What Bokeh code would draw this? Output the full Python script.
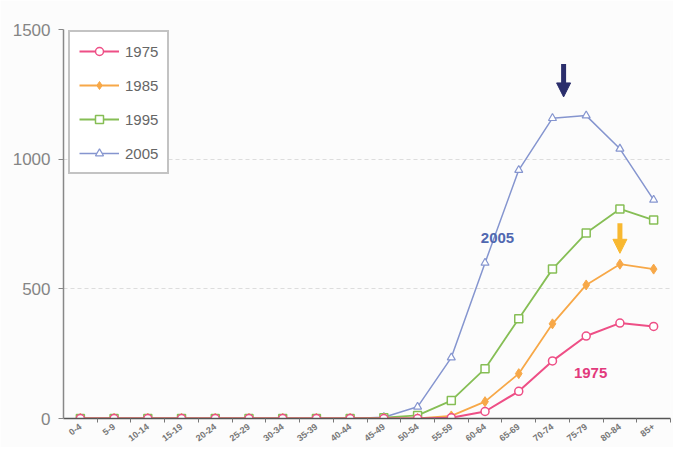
import math
from bokeh.plotting import figure
from bokeh.models import (Range1d, FixedTicker, Legend, LegendItem, Arrow, NormalHead, Label)
from bokeh.embed import file_html
from bokeh.resources import INLINE

ages = ["0-4", "5-9", "10-14", "15-19", "20-24", "25-29", "30-34", "35-39", "40-44",
        "45-49", "50-54", "55-59", "60-64", "65-69", "70-74", "75-79", "80-84", "85+"]
y1975 = [0, 0, 0, 0, 0, 0, 0, 0, 0, 0, 0, 3, 27, 105, 222, 318, 368, 355]
y1985 = [0, 0, 0, 0, 0, 0, 0, 0, 0, 0, 0, 10, 65, 173, 365, 515, 595, 576]
y1995 = [0, 0, 0, 0, 0, 0, 0, 0, 0, 3, 12, 69, 192, 385, 576, 715, 808, 765]
y2005 = [0, 0, 0, 0, 0, 0, 0, 0, 0, 5, 45, 235, 600, 958, 1158, 1168, 1040, 843]
y_ticks = [0, 500, 1000, 1500]

xs = list(range(len(ages)))

p = figure(width=673, height=447, output_backend="svg", toolbar_location=None,
           x_range=Range1d(-0.5, 17.5), y_range=Range1d(0, 1500),
           min_border_left=63, min_border_top=29, min_border_bottom=26, min_border_right=3)
p.background_fill_color = "#fcfcfc"
p.border_fill_color = "#fcfcfc"
p.outline_line_color = None

p.xgrid.grid_line_color = None
p.ygrid.grid_line_color = "#dddddd"
p.ygrid.grid_line_dash = "4 3"
p.ygrid.ticker = FixedTicker(ticks=[500, 1000, 1500])

p.yaxis.ticker = FixedTicker(ticks=y_ticks)
p.yaxis.axis_line_color = "#888888"
p.yaxis.axis_line_width = 1.5
p.yaxis.major_tick_line_color = "#888888"
p.yaxis.major_tick_out = 5
p.yaxis.major_tick_in = 0
p.yaxis.minor_tick_line_color = None
p.yaxis.major_label_text_font = "Liberation Sans"
p.yaxis.major_label_text_font_size = "17px"
p.yaxis.major_label_text_color = "#858585"
p.yaxis.major_label_standoff = 8

p.xaxis.ticker = FixedTicker(ticks=xs, minor_ticks=[i + 0.5 for i in xs])
p.xaxis.major_label_overrides = {i: a for i, a in enumerate(ages)}
p.xaxis.axis_line_color = "#555555"
p.xaxis.axis_line_width = 1.5
p.xaxis.major_tick_line_color = None
p.xaxis.major_tick_out = 0
p.xaxis.minor_tick_line_color = "#777777"
p.xaxis.minor_tick_out = 4
p.xaxis.minor_tick_in = 0
p.xaxis.major_label_orientation = 0.65
p.xaxis.major_label_text_font = "Liberation Sans"
p.xaxis.major_label_text_font_size = "9px"
p.xaxis.major_label_text_font_style = "bold"
p.xaxis.major_label_text_color = "#777777"
p.xaxis.major_label_standoff = 3

c75, c85, c95, c05 = "#ee4f86", "#f7a848", "#86be55", "#8595cf"

l05 = p.line(xs, y2005, line_color=c05, line_width=1.5)
m05 = p.scatter(xs, y2005, marker="triangle", size=8, line_color=c05, fill_color="#ffffff", line_width=1.2)
l95 = p.line(xs, y1995, line_color=c95, line_width=1.8)
m95 = p.scatter(xs, y1995, marker="square", size=8, line_color=c95, fill_color="#ffffff", line_width=1.5)
l85 = p.line(xs, y1985, line_color=c85, line_width=1.8)
m85 = p.scatter(xs, y1985, marker="diamond", size=10, line_color=c85, fill_color=c85, line_width=1.0)
l75 = p.line(xs, y1975, line_color=c75, line_width=2)
m75 = p.scatter(xs, y1975, marker="circle", size=8, line_color=c75, fill_color="#ffffff", line_width=1.5)

legend = Legend(items=[
    LegendItem(label="1975", renderers=[l75, m75]),
    LegendItem(label="1985", renderers=[l85, m85]),
    LegendItem(label="1995", renderers=[l95, m95]),
    LegendItem(label="2005", renderers=[l05, m05]),
], location=(5, 244))
legend.label_text_font = "Liberation Sans"
legend.label_text_font_size = "15px"
legend.label_text_color = "#666666"
legend.glyph_width = 40
legend.glyph_height = 20
legend.label_height = 20
legend.spacing = 14
legend.padding = 9
legend.label_standoff = 6
legend.border_line_color = "#888888"
legend.border_line_width = 2
legend.background_fill_color = "#ffffff"
legend.background_fill_alpha = 1.0
p.add_layout(legend)

p.add_layout(Arrow(end=NormalHead(size=14, fill_color="#2b2e6c", line_color="#2b2e6c"),
                   x_start=14.33, y_start=1367, x_end=14.33, y_end=1240,
                   line_color="#2b2e6c", line_width=5))
p.add_layout(Arrow(end=NormalHead(size=14, fill_color="#f8b830", line_color="#f8b830"),
                   x_start=16.0, y_start=753, x_end=16.0, y_end=637,
                   line_color="#f8b830", line_width=5))

p.add_layout(Label(x=12.37, y=695, text="2005", text_align="center", text_baseline="middle",
                   text_font="Liberation Sans", text_font_size="15px", text_font_style="bold",
                   text_color="#5068b0"))
p.add_layout(Label(x=15.13, y=177, text="1975", text_align="center", text_baseline="middle",
                   text_font="Liberation Sans", text_font_size="15px", text_font_style="bold",
                   text_color="#e23a7c"))

open("out.html", "w").write(file_html(p, INLINE))
